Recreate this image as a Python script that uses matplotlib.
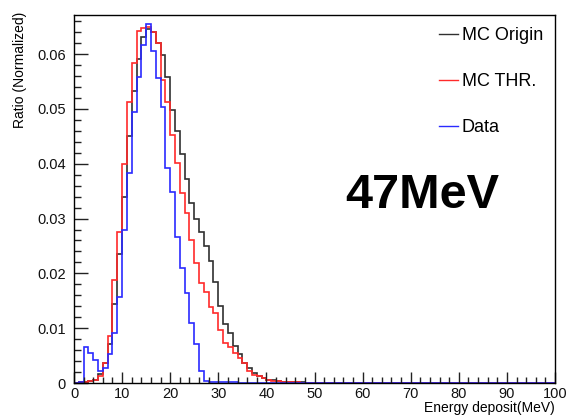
import numpy as np
import matplotlib
matplotlib.use("Agg")
import matplotlib.pyplot as plt
from matplotlib.ticker import MultipleLocator, FixedLocator, FixedFormatter

plt.rcParams['font.family'] = ['Liberation Sans', 'DejaVu Sans']

# Bin edges: 100 bins of 1 MeV
bin_lo = 0
bin_hi = 100
n_bins = 100

mc_origin = [0, 0.0001, 0.0002, 0.0003, 0.0006, 0.0016, 0.0036, 0.0071, 0.0145, 0.0236,
             0.0340, 0.0450, 0.0533, 0.0592, 0.0632, 0.0645, 0.0641, 0.0621, 0.0599, 0.0559,
             0.0498, 0.0459, 0.0418, 0.0373, 0.0328, 0.0300, 0.0275, 0.0250, 0.0222, 0.0185,
             0.0140, 0.0108, 0.0092, 0.0068, 0.0052, 0.0037, 0.0028, 0.0019, 0.0013, 0.0009,
             0.0006, 0.0005, 0.0004, 0.0002, 0.0002, 0.0001, 0.0001, 0.0001] + [0] * 52

mc_thr = [0, 0.0001, 0.0002, 0.0003, 0.0006, 0.0013, 0.0036, 0.0085, 0.0188, 0.0276,
          0.0399, 0.0512, 0.0584, 0.0643, 0.0647, 0.0650, 0.0641, 0.0620, 0.0553, 0.0513,
          0.0453, 0.0401, 0.0347, 0.0310, 0.0261, 0.0219, 0.0182, 0.0166, 0.0139, 0.0127,
          0.0097, 0.0073, 0.0066, 0.0054, 0.0045, 0.0036, 0.0021, 0.0015, 0.0012, 0.0009,
          0.0006, 0.0004, 0.0003, 0.0002, 0.0002, 0.0001, 0.0001] + [0] * 53

data = [0, 0.0002, 0.0066, 0.0055, 0.0042, 0.0022, 0.0028, 0.0053, 0.0091, 0.0156,
        0.0280, 0.0384, 0.0495, 0.0559, 0.0617, 0.0655, 0.0605, 0.0556, 0.0503, 0.0392,
        0.0349, 0.0267, 0.0209, 0.0164, 0.0109, 0.0071, 0.0021, 0.0004, 0.0002, 0.0002,
        0.0001, 0.0001, 0.0001, 0.0001] + [0] * 66

x_ticks = [0, 10, 20, 30, 40, 50, 60, 70, 80, 90, 100]
x_tick_labels = ["0", "10", "20", "30", "40", "50", "60", "70", "80", "90", "100"]
y_ticks = [0, 0.01, 0.02, 0.03, 0.04, 0.05, 0.06]
y_tick_labels = ["0", "0.01", "0.02", "0.03", "0.04", "0.05", "0.06"]

series_labels = ["MC Origin", "MC THR.", "Data"]
annotation = "47MeV"

edges = np.linspace(bin_lo, bin_hi, n_bins + 1)

W, H = 566, 419
fig = plt.figure(figsize=(W / 100, H / 100), dpi=100)
ax = fig.add_axes([74 / W, 1 - 383 / H, (555 - 74) / W, (383 - 15) / H])

lw = 1.2
ax.stairs(mc_origin, edges, color='#303030', lw=lw, label=series_labels[0], baseline=None)
ax.stairs(mc_thr, edges, color='#ff2a2a', lw=lw, label=series_labels[1], baseline=None)
ax.stairs(data, edges, color='#2a2aff', lw=lw, label=series_labels[2], baseline=None)

ymax = max(max(mc_origin), max(mc_thr), max(data)) * 1.025
ax.set_xlim(bin_lo, bin_hi)
ax.set_ylim(0, ymax)

ax.xaxis.set_major_locator(FixedLocator(x_ticks))
ax.xaxis.set_major_formatter(FixedFormatter(x_tick_labels))
ax.xaxis.set_minor_locator(MultipleLocator(2))
ax.yaxis.set_major_locator(FixedLocator(y_ticks))
ax.yaxis.set_major_formatter(FixedFormatter(y_tick_labels))
ax.yaxis.set_minor_locator(MultipleLocator(0.002))

ax.tick_params(axis='both', which='both', direction='in', top=False, right=False,
               labelsize=10.5, colors='#222222', labelcolor='#111111')
ax.tick_params(axis='y', which='major', length=10, width=1.0, pad=6)
ax.tick_params(axis='y', which='minor', length=5, width=1.0)
ax.tick_params(axis='x', which='major', length=8, width=1.0, pad=3)
ax.tick_params(axis='x', which='minor', length=4, width=1.0)
for s in ax.spines.values():
    s.set_linewidth(1.0)
    s.set_color('black')

fig.text(20 / W, 1 - 70 / H, "Ratio (Normalized)", rotation=90, ha='center', va='center',
         fontsize=10)
fig.text(555 / W, 1 - 408 / H, "Energy deposit(MeV)", ha='right', va='center', fontsize=10)

ax.text((422 - 74) / (555 - 74), (383 - 195) / (383 - 15), annotation, transform=ax.transAxes,
        ha='center', va='center', fontsize=35, fontweight='bold')

leg = ax.legend(loc='upper left', bbox_to_anchor=((439 - 74) / (555 - 74), (383 - 27) / (383 - 15)),
                frameon=False, fontsize=13, handlelength=1.05, handletextpad=0.2,
                labelspacing=1.62, borderpad=0, borderaxespad=0)
for lh in leg.get_lines():
    lh.set_linewidth(1.0)

fig.savefig("out.png", dpi=100)
